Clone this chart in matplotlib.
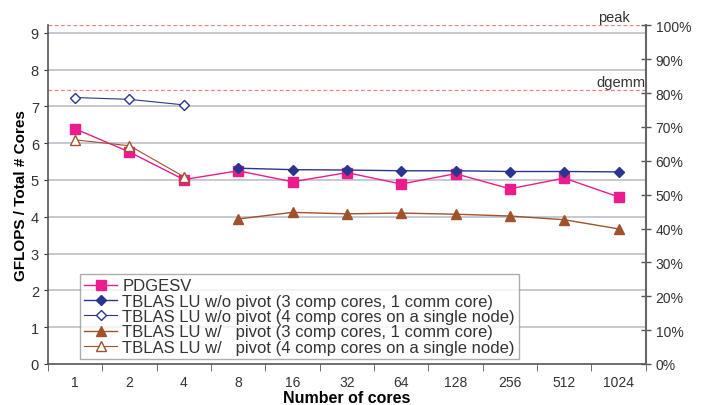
import matplotlib
matplotlib.use("Agg")
import matplotlib.pyplot as plt
import numpy as np

plt.rcParams['font.family'] = ['Liberation Sans', 'DejaVu Sans']

cores = ["1", "2", "4", "8", "16", "32", "64", "128", "256", "512", "1024"]
pdgesv = [6.39, 5.76, 5.01, 5.25, 4.95, 5.20, 4.89, 5.17, 4.76, 5.05, 4.54]
nopiv_3c = [None, None, None, 5.32, 5.28, 5.27, 5.25, 5.25, 5.23, 5.23, 5.22]
nopiv_4c = [7.24, 7.19, 7.04, None, None, None, None, None, None, None, None]
piv_3c = [None, None, None, 3.94, 4.12, 4.08, 4.10, 4.07, 4.02, 3.92, 3.67]
piv_4c = [6.09, 5.93, 5.09, None, None, None, None, None, None, None, None]
labels = ["PDGESV",
          "TBLAS LU w/o pivot (3 comp cores, 1 comm core)",
          "TBLAS LU w/o pivot (4 comp cores on a single node)",
          "TBLAS LU w/   pivot (3 comp cores, 1 comm core)",
          "TBLAS LU w/   pivot (4 comp cores on a single node)"]
peak = 9.2
dgemm = 7.45
pct_ticks = [0, 10, 20, 30, 40, 50, 60, 70, 80, 90, 100]

def arr(v):
    return np.array([np.nan if x is None else x for x in v], dtype=float)

fig = plt.figure(figsize=(7.05, 4.06), dpi=100)
ax = fig.add_axes([0.068, 0.101, 0.848, 0.834])
x = np.arange(len(cores))

pink = '#EC1C8C'
navy = '#2B3590'
brown = '#A0522D'

for yv in range(1, 10):
    ax.axhline(yv, color='#bcc0cb', lw=1.2, zorder=0)

ax.axhline(peak, color='#f08080', lw=0.9, ls=(0, (3, 2)), zorder=1)
ax.axhline(dgemm, color='#f08080', lw=0.9, ls=(0, (3, 2)), zorder=1)
ax.text(10.2, peak + 0.03, "peak", ha='right', va='bottom', fontsize=10.5, color='#333333')
ax.text(10.5, dgemm + 0.03, "dgemm", ha='right', va='bottom', fontsize=10.5, color='#333333')

ax.plot(x, arr(pdgesv), color=pink, marker='s', ms=6.5, lw=1, mfc=pink, mec=pink, label=labels[0], zorder=3)
ax.plot(x, arr(nopiv_3c), color=navy, marker='D', ms=5.5, lw=1, mfc=navy, mec=navy, label=labels[1], zorder=4)
ax.plot(x, arr(nopiv_4c), color=navy, marker='D', ms=5.5, lw=0.8, mfc='white', mec=navy, label=labels[2], zorder=4)
ax.plot(x, arr(piv_3c), color=brown, marker='^', ms=7, lw=1, mfc=brown, mec=brown, label=labels[3], zorder=3)
ax.plot(x, arr(piv_4c), color=brown, marker='^', ms=7, lw=0.8, mfc='white', mec=brown, label=labels[4], zorder=3)

ax.set_xlim(-0.5, len(cores) - 0.5)
ax.set_ylim(0, peak)
ax.set_xticks(x)
ax.set_xticklabels(cores, fontsize=10, color='#333333')
ax.set_xticks(np.arange(-0.5, len(cores), 1.0), minor=True)
ax.tick_params(axis='x', which='major', length=0, pad=8)
ax.tick_params(axis='x', which='minor', length=5, direction='out', color='#555555')
ax.set_yticks(range(0, 10))
ax.tick_params(axis='y', labelsize=10.5, colors='#333333', length=3, direction='out')
ax.spines['top'].set_visible(False)
ax.spines['right'].set_visible(False)
for s in ['left', 'bottom']:
    ax.spines[s].set_color('#555555')
    ax.spines[s].set_linewidth(1.2)

ax.set_xlabel("Number of cores", fontsize=11.5, fontweight='bold', labelpad=0.5)
ax.set_ylabel("GFLOPS / Total # Cores", fontsize=11, fontweight='bold', labelpad=2)

ax2 = ax.twinx()
ax2.set_ylim(0, 100)
ax2.set_yticks(pct_ticks)
ax2.set_yticklabels([f"{p}%" for p in pct_ticks], fontsize=10, color='#333333')
ax2.tick_params(axis='y', direction='inout', length=7, color='#555555', width=1)
for s in ['top', 'left', 'bottom']:
    ax2.spines[s].set_visible(False)
ax2.spines['right'].set_color('#666666')
ax2.spines['right'].set_linewidth(1.5)

leg = ax.legend(loc='lower left', bbox_to_anchor=(0.045, 0.0), fontsize=12, frameon=True,
                fancybox=False, edgecolor='#999999', handlelength=2.0, handletextpad=0.3,
                borderpad=0.25, labelspacing=0.02, borderaxespad=0.3)
leg.get_frame().set_linewidth(1.0)
for t in leg.get_texts():
    t.set_color('#333333')

fig.savefig("out.png", dpi=100)
